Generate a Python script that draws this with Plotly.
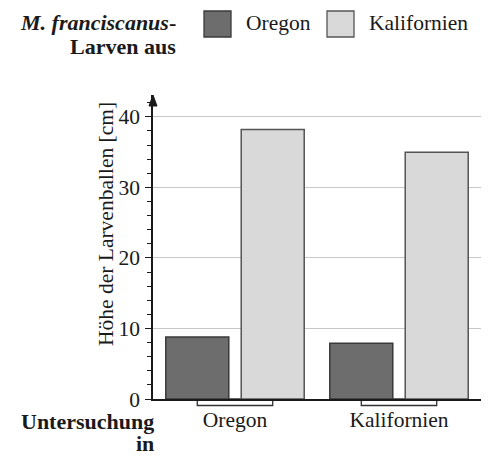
import plotly.graph_objects as go

# ---- data ----
categories = ["Oregon", "Kalifornien"]
series_names = ["Oregon", "Kalifornien"]
values_oregon_larvae = [8.8, 7.9]
values_kalifornien_larvae = [38.2, 35.0]
y_ticks = [0, 10, 20, 30, 40]

# ---- layout geometry (pixels, reference coordinates) ----
OFF = 8  # page margin of the browser body
W_FIG, H_FIG = 504 - OFF, 465 - OFF
AX_LEFT, AX_RIGHT, AX_TOP, AX_BOTTOM = 153, 481, 95, 399
L = AX_LEFT - OFF
T = AX_TOP - OFF
R = W_FIG - (AX_RIGHT - OFF)
B = H_FIG - (AX_BOTTOM - OFF)
PW = AX_RIGHT - AX_LEFT
PH = AX_BOTTOM - AX_TOP

def px2x(px):
    return (px - AX_LEFT) / PW

def py2y(py):
    return (AX_BOTTOM - py) / PH

FONT = "Liberation Serif"
TXT = "#1a1a1a"
FS = 21.5
FSB = 22

dark_fill, dark_line = "#6d6d6d", "#3a3a3a"
light_fill, light_line = "#d9d9d9", "#555555"

fig = go.Figure()
fig.add_trace(go.Bar(x=categories, y=values_oregon_larvae, name=series_names[0],
                     marker=dict(color=dark_fill, line=dict(color=dark_line, width=1.5))))
fig.add_trace(go.Bar(x=categories, y=values_kalifornien_larvae, name=series_names[1],
                     marker=dict(color=light_fill, line=dict(color=light_line, width=1.5))))

shapes = []
annotations = []

# brackets under each group (from centre of first bar to centre of second bar)
half = 0.23
for i, _ in enumerate(categories):
    shapes.append(dict(type="rect", xref="x", yref="paper", ysizemode="pixel", yanchor=0,
                       x0=i - half, x1=i + half, y0=0, y1=-6.5,
                       fillcolor="white", line=dict(color="#333333", width=1.3), layer="below"))

# arrow head on top of y axis
shapes.append(dict(type="path", xref="paper", yref="paper", xsizemode="pixel", ysizemode="pixel",
                   xanchor=0, yanchor=1, path="M -4,-11 L 0,0 L 4,-11 Z",
                   fillcolor="#1a1a1a", line=dict(color="#1a1a1a", width=1)))

# custom legend
legend_items = [(series_names[0], dark_fill, dark_line, 204, 244),
                (series_names[1], light_fill, light_line, 327, 367)]
for name, fc, lc, sx, tx in legend_items:
    shapes.append(dict(type="rect", xref="paper", yref="paper",
                       x0=px2x(sx), x1=px2x(sx + 27), y0=py2y(11), y1=py2y(37),
                       fillcolor=fc, line=dict(color=lc, width=1.3)))
    annotations.append(dict(text=name, xref="paper", yref="paper", x=px2x(tx), y=py2y(23),
                            xanchor="left", yanchor="middle", showarrow=False,
                            font=dict(family=FONT, size=FS, color=TXT)))

annotations.append(dict(text="<b><i>M. franciscanus</i>-</b>", xref="paper", yref="paper",
                        x=px2x(178), y=py2y(23), xanchor="right", yanchor="middle",
                        showarrow=False, font=dict(family=FONT, size=FSB, color=TXT)))
annotations.append(dict(text="<b>Larven aus</b>", xref="paper", yref="paper",
                        x=px2x(178), y=py2y(47), xanchor="right", yanchor="middle",
                        showarrow=False, font=dict(family=FONT, size=FSB, color=TXT)))

annotations.append(dict(text="<b>Untersuchung</b>", xref="paper", yref="paper",
                        x=px2x(156), y=py2y(421), xanchor="right", yanchor="middle",
                        showarrow=False, font=dict(family=FONT, size=FSB, color=TXT)))
annotations.append(dict(text="<b>in</b>", xref="paper", yref="paper",
                        x=px2x(156), y=py2y(443), xanchor="right", yanchor="middle",
                        showarrow=False, font=dict(family=FONT, size=FSB, color=TXT)))

# y axis title
annotations.append(dict(text="Höhe der Larvenballen [cm]", xref="paper", yref="paper",
                        x=px2x(106), y=py2y(224), xanchor="center", yanchor="middle",
                        textangle=-90, showarrow=False,
                        font=dict(family=FONT, size=FS, color=TXT)))

fig.update_layout(
    width=W_FIG, height=H_FIG,
    margin=dict(l=L, r=R, t=T, b=B, pad=0),
    paper_bgcolor="white", plot_bgcolor="white",
    barmode="group", bargap=0.08, bargroupgap=0.165,
    showlegend=False,
    font=dict(family=FONT, size=FS, color=TXT),
    shapes=shapes, annotations=annotations,
    xaxis=dict(range=[-0.5, 1.5], showline=True, linecolor="#1a1a1a", linewidth=1.5,
               ticks="", showgrid=False, ticklabelstandoff=0,
               tickfont=dict(family=FONT, size=FS, color=TXT)),
    yaxis=dict(range=[0, 43.1], tickvals=y_ticks, showline=True, linecolor="#1a1a1a",
               linewidth=1.5, ticks="outside", ticklen=6, tickwidth=1.3, tickcolor="#1a1a1a",
               showgrid=True, gridcolor="#c8c8c8", gridwidth=1.2, zeroline=False,
               minor=dict(dtick=2, ticks="outside", ticklen=4, tickcolor="#1a1a1a",
                          tickwidth=1, showgrid=False),
               tickfont=dict(family=FONT, size=FS, color=TXT), ticklabelstandoff=1),
)

fig.write_html("out.html")
